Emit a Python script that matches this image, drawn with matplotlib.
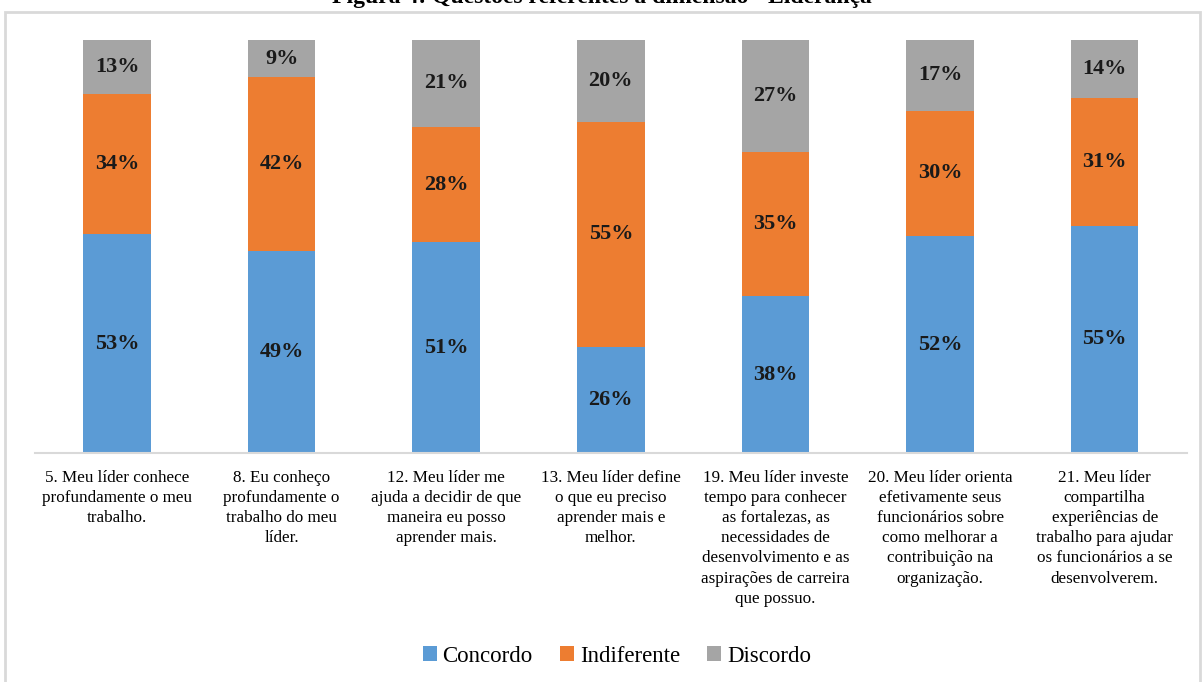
import matplotlib
matplotlib.use("Agg")
import matplotlib.pyplot as plt
from matplotlib.patches import Rectangle
import numpy as np

plt.rcParams['font.family'] = ['Liberation Serif', 'DejaVu Serif']

title = "Figura 4: Questões referentes à dimensão - Liderança"
categories = [
    "5. Meu líder conhece\nprofundamente o meu\ntrabalho.",
    "8. Eu conheço\nprofundamente o\ntrabalho do meu\nlíder.",
    "12. Meu líder me\najuda a decidir de que\nmaneira eu posso\naprender mais.",
    "13. Meu líder define\no que eu preciso\naprender mais e\nmelhor.",
    "19. Meu líder investe\ntempo para conhecer\nas fortalezas, as\nnecessidades de\ndesenvolvimento e as\naspirações de carreira\nque possuo.",
    "20. Meu líder orienta\nefetivamente seus\nfuncionários sobre\ncomo melhorar a\ncontribuição na\norganização.",
    "21. Meu líder\ncompartilha\nexperiências de\ntrabalho para ajudar\nos funcionários a se\ndesenvolverem.",
]
series_names = ["Concordo", "Indiferente", "Discordo"]
concordo = [53, 49, 51, 26, 38, 52, 55]
indiferente = [34, 42, 28, 55, 35, 30, 31]
discordo = [13, 9, 21, 20, 27, 17, 14]
colors = ["#5B9BD5", "#ED7D31", "#A5A5A5"]

W, H = 1204, 682
fig = plt.figure(figsize=(W / 100, H / 100), dpi=100)
ax = fig.add_axes([34.7 / W, 1 - 453 / H, (1187 - 34.7) / W, (453 - 40) / H])

data = np.array([concordo, indiferente, discordo], dtype=float)
totals = data.sum(axis=0)
frac = data / totals
x = np.arange(len(categories))
bottom = np.zeros(len(categories))
for i, name in enumerate(series_names):
    bars = ax.bar(x, frac[i], 0.41, bottom=bottom, color=colors[i], label=name)
    for j, b in enumerate(bars):
        ax.text(x[j], bottom[j] + frac[i][j] / 2, f"{int(data[i][j])}%",
                ha='center', va='center', fontsize=16, fontweight='bold',
                color='#1a1a1a')
    bottom += frac[i]

ax.set_xlim(-0.5, len(categories) - 0.5)
ax.set_ylim(0, 1)
ax.set_yticks([])
ax.set_xticks(x)
ax.set_xticklabels(categories, fontsize=12.3, linespacing=1.35)
ax.tick_params(axis='x', length=0, pad=12)
for s in ['top', 'left', 'right']:
    ax.spines[s].set_visible(False)
ax.spines['bottom'].set_color('#d9d9d9')
ax.spines['bottom'].set_linewidth(1.5)

fig.legend(loc='center', bbox_to_anchor=(617 / W, 1 - 656 / H), ncol=3, frameon=False,
           fontsize=16.5, handlelength=0.6, handleheight=0.6, handletextpad=0.25,
           columnspacing=1.2)

fig.patches.append(Rectangle((5 / W, -0.1), 1195 / W, 1 - 12 / H + 0.1,
                             transform=fig.transFigure, fill=False,
                             ec='#d9d9d9', lw=2))
fig.text(0.5, 1 - 3 / H, title, ha='center', va='baseline', fontsize=17,
         fontweight='bold')

fig.savefig("out.png", dpi=100)
